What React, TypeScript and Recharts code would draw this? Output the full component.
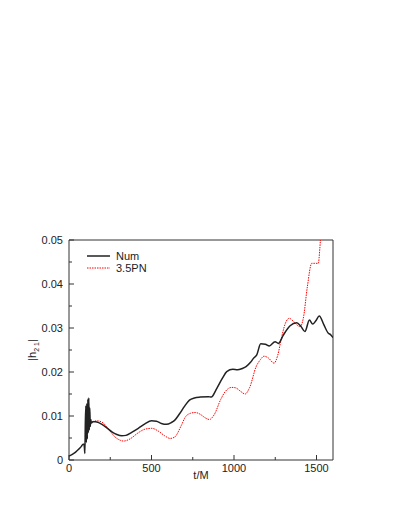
import { LineChart, Line, XAxis, YAxis, ReferenceArea } from "recharts";

// t/M values and |h_21| for the numerical run
const numT = [
  0, 20, 40, 60, 75, 85, 90, 94, 96, 99, 102, 105, 108, 111, 114, 117, 120, 123,
  126, 129, 132, 136, 145, 160, 180, 200, 230, 260, 290, 320, 345, 380, 420,
  460, 500, 530, 560, 590, 620, 640, 670, 700, 730, 760, 795, 845, 862, 896,
  930, 956, 993, 1021, 1050, 1073, 1100, 1118, 1138, 1162, 1190, 1214, 1249,
  1269, 1299, 1340, 1380, 1405, 1430, 1457, 1477, 1495, 1517, 1545, 1572, 1585,
  1600,
];
const numH = [
  0.0009, 0.0013, 0.0018, 0.0025, 0.0031, 0.0036, 0.0036, 0.0025, 0.0015,
  0.0085, 0.0123, 0.004, 0.0128, 0.0048, 0.0138, 0.0062, 0.0141, 0.0068, 0.0118,
  0.0076, 0.0092, 0.0084, 0.0087, 0.0087, 0.0085, 0.0081, 0.0073, 0.0064,
  0.0058, 0.0055, 0.0056, 0.0063, 0.0072, 0.0082, 0.0089, 0.0088, 0.0083,
  0.0081, 0.0085, 0.009, 0.0105, 0.0122, 0.0136, 0.0141, 0.0143, 0.0144, 0.0143,
  0.0163, 0.0186, 0.0201, 0.0206, 0.0205, 0.0208, 0.0212, 0.0222, 0.0231,
  0.0239, 0.0264, 0.0263, 0.0259, 0.0269, 0.0265, 0.0284, 0.0305, 0.0312,
  0.0304, 0.0292, 0.0318, 0.0309, 0.0316, 0.0327, 0.0307, 0.0288, 0.0285,
  0.0278,
];

// 3.5PN prediction
const pnT = [
  113, 140, 170, 200, 240, 280, 310, 331, 370, 420, 460, 502, 540, 580, 613,
  640, 680, 704, 735, 765, 795, 825, 851, 880, 920, 946, 986, 1010, 1040, 1067,
  1095, 1134, 1160, 1182, 1208, 1243, 1265, 1289, 1315, 1335, 1363, 1400, 1420,
  1445, 1471, 1490, 1511, 1520, 1530,
];
const pnH = [
  0.0083, 0.0087, 0.0089, 0.0086, 0.007, 0.0052, 0.0045, 0.0043, 0.0048,
  0.0062, 0.007, 0.0072, 0.0066, 0.0055, 0.0049, 0.0052, 0.0078, 0.0097, 0.0106,
  0.0108, 0.0104, 0.0096, 0.0092, 0.0103, 0.0138, 0.0155, 0.0165, 0.0164,
  0.0156, 0.015, 0.0165, 0.0212, 0.0228, 0.0236, 0.0232, 0.022, 0.0238, 0.028,
  0.0314, 0.0322, 0.0314, 0.0303, 0.0322, 0.0395, 0.0447, 0.0447, 0.0447,
  0.048, 0.054,
];

const xTicks = [0, 250, 500, 750, 1000, 1250, 1500];
const xLabels = [0, 500, 1000, 1500];
const yTicks = [0, 0.005, 0.01, 0.015, 0.02, 0.025, 0.03, 0.035, 0.04, 0.045, 0.05];
const yLabels = [0, 0.01, 0.02, 0.03, 0.04, 0.05];

const numData = numT.map((t, i) => ({ t, h: numH[i] }));
const pnData = pnT.map((t, i) => ({ t, h: pnH[i] }));

const font = "'Liberation Sans', Arial, Helvetica, sans-serif";
const axisColor = "#333";
const MAJOR = 5;
const MINOR = 3;

const BottomTick = (p: any) => {
  const v = p.payload.value;
  const major = xLabels.includes(v);
  const y0 = p.y - 3;
  return (
    <g>
      <line x1={p.x} x2={p.x} y1={y0} y2={y0 - (major ? MAJOR : MINOR)} stroke={axisColor} />
      {major && (
        <text x={p.x} y={y0 + 12} textAnchor="middle" fontSize={11} fill="#222" fontFamily={font}>
          {v}
        </text>
      )}
    </g>
  );
};

const TopTick = (p: any) => {
  const major = xLabels.includes(p.payload.value);
  return (
    <line x1={p.x} x2={p.x} y1={p.y} y2={p.y + (major ? MAJOR : MINOR)} stroke={axisColor} />
  );
};

const LeftTick = (p: any) => {
  const v = p.payload.value;
  const major = yLabels.some((l) => Math.abs(l - v) < 1e-9);
  const x0 = p.x + 4;
  return (
    <g>
      <line x1={x0} x2={x0 + (major ? MAJOR : MINOR)} y1={p.y} y2={p.y} stroke={axisColor} />
      {major && (
        <text x={x0 - 6} y={p.y + 4} textAnchor="end" fontSize={11} fill="#222" fontFamily={font}>
          {v === 0 ? "0" : v.toFixed(2)}
        </text>
      )}
    </g>
  );
};

const RightTick = (p: any) => {
  const v = p.payload.value;
  const major = yLabels.some((l) => Math.abs(l - v) < 1e-9);
  return (
    <line x1={p.x} x2={p.x - (major ? MAJOR : MINOR)} y1={p.y} y2={p.y} stroke={axisColor} />
  );
};

const YLabel = (p: any) => {
  const vb = p.viewBox || { x: 29, y: 240, width: 40, height: 220 };
  const cx = vb.x + 7;
  const cy = vb.y + vb.height / 2;
  return (
    <text
      x={cx}
      y={cy}
      transform={`rotate(-90 ${cx} ${cy})`}
      textAnchor="middle"
      fontSize={11}
      fill="#222"
      fontFamily={font}
    >
      |h
      <tspan fontSize={7} dy={3}>
        2 1
      </tspan>
      <tspan dy={-3}>|</tspan>
    </text>
  );
};

export default function App() {
  return (
    <div style={{ position: "absolute", left: 0, top: 0, width: 402, height: 520, background: "#fff" }}>
      <LineChart
        width={402}
        height={520}
        margin={{ top: 240, right: 69, bottom: 30, left: 29 }}
      >
        <XAxis
          xAxisId="b"
          dataKey="t"
          type="number"
          domain={[0, 1600]}
          allowDataOverflow
          ticks={xTicks}
          interval={0}
          height={30}
          tickSize={0}
          tickMargin={3}
          axisLine={false}
          tickLine={false}
          tick={BottomTick}
          label={{ value: "t/M", position: "insideBottom", offset: 11, fontSize: 11, fill: "#222", fontFamily: font }}
        />
        <XAxis
          xAxisId="t"
          orientation="top"
          dataKey="t"
          type="number"
          domain={[0, 1600]}
          allowDataOverflow
          ticks={xTicks}
          interval={0}
          height={0}
          tickSize={0}
          tickMargin={0}
          axisLine={false}
          tickLine={false}
          tick={TopTick}
        />
        <YAxis
          yAxisId="l"
          type="number"
          domain={[0, 0.05]}
          allowDataOverflow
          ticks={yTicks}
          interval={0}
          width={40}
          tickSize={0}
          tickMargin={4}
          axisLine={false}
          tickLine={false}
          tick={LeftTick}
          label={{ value: "|h21|", content: YLabel }}
        />
        <YAxis
          yAxisId="r"
          orientation="right"
          type="number"
          domain={[0, 0.05]}
          allowDataOverflow
          ticks={yTicks}
          interval={0}
          width={0}
          tickSize={0}
          tickMargin={0}
          axisLine={false}
          tickLine={false}
          tick={RightTick}
        />
        <Line
          xAxisId="b"
          yAxisId="l"
          data={pnData}
          dataKey="h"
          type="monotone"
          stroke="#ff0000"
          strokeWidth={1}
          strokeDasharray="1.5 1"
          dot={false}
          isAnimationActive={false}
        />
        <Line
          xAxisId="b"
          yAxisId="l"
          data={numData}
          dataKey="h"
          type="monotone"
          stroke="#222"
          strokeWidth={1.5}
          dot={false}
          isAnimationActive={false}
        />
        <ReferenceArea
          xAxisId="b"
          yAxisId="l"
          x1={0}
          x2={1600}
          y1={0}
          y2={0.05}
          fill="none"
          stroke={axisColor}
          strokeWidth={1}
          ifOverflow="visible"
        />
      </LineChart>
      <svg
        width={120}
        height={26}
        style={{ position: "absolute", left: 87, top: 252, overflow: "visible" }}
      >
        <line x1={0} x2={23} y1={4} y2={4} stroke="#222" strokeWidth={1.5} />
        <text x={29} y={8} fontSize={11} fill="#222" fontFamily={font}>
          Num
        </text>
        <line x1={0} x2={23} y1={16} y2={16} stroke="#ff0000" strokeWidth={1} strokeDasharray="1.5 1" />
        <text x={29} y={20} fontSize={11} fill="#222" fontFamily={font}>
          3.5PN
        </text>
      </svg>
    </div>
  );
}
